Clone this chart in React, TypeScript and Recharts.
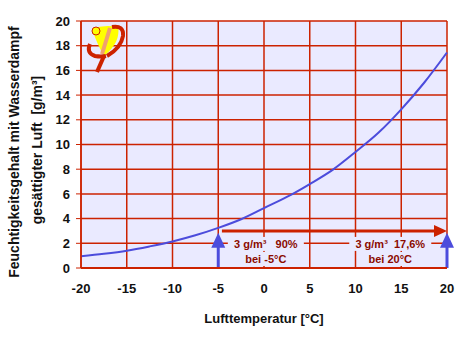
import React from 'react';
import { LineChart, Line, XAxis, YAxis, CartesianGrid, ReferenceLine, ReferenceDot } from 'recharts';

const temperatures = [-20, -17.5, -15, -12.5, -10, -7.5, -5, -2.5, 0, 2.5, 5, 7.5, 10, 12.5, 15, 17.5, 20];
const moisture = [0.95, 1.15, 1.4, 1.75, 2.15, 2.65, 3.25, 3.95, 4.85, 5.75, 6.8, 7.95, 9.4, 10.95, 12.85, 15.0, 17.45];
const xTicks = [-20, -15, -10, -5, 0, 5, 10, 15, 20];
const yTicks = [0, 2, 4, 6, 8, 10, 12, 14, 16, 18, 20];

const data = temperatures.map((t, i) => ({ t, v: moisture[i] }));

const RED = '#cc2200';
const BLUE = '#4c4cdc';
const BG = '#eaeaff';
const TXT = '#8b0a00';
const FONT = '"Liberation Sans", Arial, sans-serif';

const HArrow = (p: any) => {
  const { x1, y1, x2 } = p;
  return (
    <g>
      <line x1={x1} y1={y1} x2={x2 - 10} y2={y1} stroke={RED} strokeWidth={3} />
      <polygon points={`${x2},${y1} ${x2 - 13},${y1 - 6} ${x2 - 13},${y1 + 6}`} fill={RED} />
    </g>
  );
};

const VArrow = (p: any) => {
  const { x1, y1, y2 } = p;
  const top = Math.min(y1, y2);
  const bot = Math.max(y1, y2);
  return (
    <g>
      <line x1={x1} y1={bot} x2={x1} y2={top + 10} stroke={BLUE} strokeWidth={3} />
      <polygon points={`${x1},${top} ${x1 - 7},${top + 15} ${x1 + 7},${top + 15}`} fill={BLUE} />
    </g>
  );
};

const makeLabel = (text: string, w: number) => (p: any) => {
  const { cx, cy } = p;
  return (
    <g>
      <rect x={cx - w / 2} y={cy - 7} width={w} height={14} fill={BG} />
      <text x={cx} y={cy} dy="0.36em" textAnchor="middle" fill={TXT} fontSize={11} fontWeight="bold" fontFamily={FONT} style={{ whiteSpace: 'pre' }}>
        {text}
      </text>
    </g>
  );
};

const Logo = (p: any) => {
  const ox = p.cx - 81;
  const oy = p.cy - 21;
  const P = (x: number, y: number) => `${x + ox},${y + oy}`;
  return (
    <g>
      <path d={`M${P(92, 29)} Q${P(104, 24)} ${P(118, 27)} Q${P(121, 42)} ${P(104, 56)} Q${P(97, 44)} ${P(92, 29)} Z`} fill="#ffff00" />
      <line x1={110 + ox} y1={28 + oy} x2={102 + ox} y2={54 + oy} stroke="#f0a070" strokeWidth={4} />
      <path d={`M${P(112, 27)} Q${P(124, 25)} ${P(123, 36)} Q${P(121, 48)} ${P(107, 56)}`} fill="none" stroke={RED} strokeWidth={4} />
      <path d={`M${P(90, 44)} Q${P(86, 53)} ${P(95, 56)} Q${P(101, 57)} ${P(106, 56)}`} fill="none" stroke={RED} strokeWidth={4} />
      <line x1={104 + ox} y1={56 + oy} x2={97 + ox} y2={72 + oy} stroke={RED} strokeWidth={4} />
      <circle cx={96 + ox} cy={31 + oy} r={4} fill="#ffff00" stroke={RED} strokeWidth={1} />
    </g>
  );
};

export default function App() {
  return (
    <div style={{ position: 'absolute', left: 0, top: 0, width: 460, height: 353, background: '#fff' }}>
      <LineChart width={460} height={353} data={data} margin={{ top: 21, right: 13, bottom: 55, left: 0 }}>
        <CartesianGrid stroke={RED} strokeWidth={1.5} fill={BG} />
        <XAxis
          dataKey="t"
          type="number"
          domain={[-20, 20]}
          ticks={xTicks}
          height={30}
          tickLine={false}
          tickMargin={10}
          axisLine={{ stroke: RED, strokeWidth: 2 }}
          tick={{ fill: '#111', fontSize: 13, fontWeight: 'bold', fontFamily: FONT }}
          label={{
            content: () => (
              <text x={264} y={323} textAnchor="middle" fill="#111" fontSize={13} fontWeight="bold" fontFamily={FONT}>
                Lufttemperatur [°C]
              </text>
            ),
          }}
        />
        <YAxis
          type="number"
          domain={[0, 20]}
          ticks={yTicks}
          width={81}
          tickSize={5}
          tickMargin={6}
          interval={0}
          tickLine={{ stroke: RED }}
          axisLine={{ stroke: RED, strokeWidth: 1.5 }}
          tick={{ fill: '#111', fontSize: 13, fontWeight: 'bold', fontFamily: FONT }}
          label={{
            content: () => (
              <g>
                <text x={14} y={152} dy="0.36em" transform="rotate(-90 14 152)" textAnchor="middle" fill="#111" fontSize={14} fontWeight="bold" fontFamily={FONT}>
                  Feuchtigkeitsgehalt mit Wasserdampf
                </text>
                <text x={37} y={150} dy="0.36em" transform="rotate(-90 37 150)" textAnchor="middle" fill="#111" fontSize={14} fontWeight="bold" fontFamily={FONT} style={{ whiteSpace: 'pre' }}>
                  {'gesättigter Luft  [g/m³]'}
                </text>
              </g>
            ),
          }}
        />
        <ReferenceDot x={-20} y={20} r={0} shape={Logo} />
        <ReferenceLine segment={[{ x: -5, y: 0 }, { x: -5, y: 2.85 }]} shape={VArrow} />
        <ReferenceLine segment={[{ x: 20, y: 0 }, { x: 20, y: 2.85 }]} shape={VArrow} />
        <ReferenceLine segment={[{ x: -4.6, y: 3 }, { x: 20, y: 3 }]} shape={HArrow} />
        <ReferenceDot x={0.2} y={1.95} r={0} shape={makeLabel('3 g/m³   90%', 76)} />
        <ReferenceDot x={0.2} y={0.73} r={0} shape={makeLabel('bei -5°C', 52)} />
        <ReferenceDot x={13.8} y={1.95} r={0} shape={makeLabel('3 g/m³  17,6%', 82)} />
        <ReferenceDot x={13.8} y={0.73} r={0} shape={makeLabel('bei 20°C', 54)} />
        <Line type="monotone" dataKey="v" stroke={BLUE} strokeWidth={2} dot={false} isAnimationActive={false} />
      </LineChart>
    </div>
  );
}
